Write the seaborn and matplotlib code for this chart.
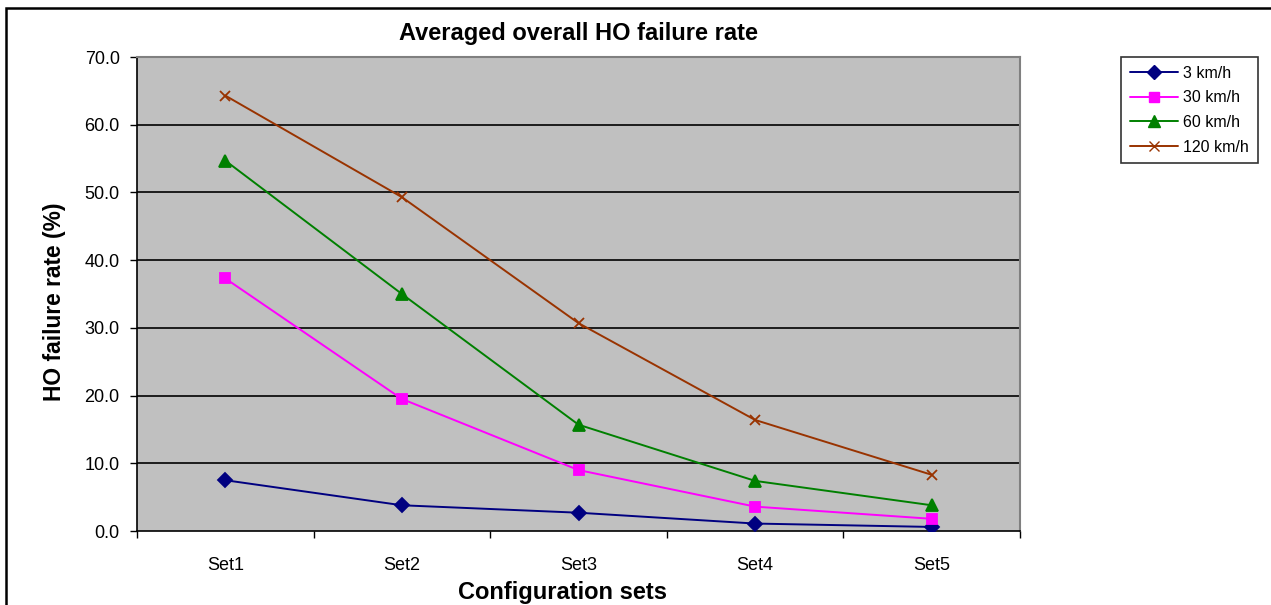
import numpy as np
import pandas as pd
import matplotlib
matplotlib.use("Agg")
import matplotlib.pyplot as plt
from matplotlib.patches import Rectangle
from matplotlib.lines import Line2D
from matplotlib.ticker import FormatStrFormatter, FixedLocator
import seaborn as sns

# ---- data ----
sets = ["Set1", "Set2", "Set3", "Set4", "Set5"]
speeds = ["3 km/h", "30 km/h", "60 km/h", "120 km/h"]
rate_3 = [7.5, 3.8, 2.7, 1.1, 0.6]
rate_30 = [37.3, 19.5, 9.0, 3.6, 1.8]
rate_60 = [54.7, 35.0, 15.7, 7.4, 3.8]
rate_120 = [64.3, 49.3, 30.7, 16.4, 8.3]
y_ticks = [0, 10, 20, 30, 40, 50, 60, 70]

series = {speeds[0]: rate_3, speeds[1]: rate_30, speeds[2]: rate_60, speeds[3]: rate_120}
df = pd.DataFrame([
    {"set": s, "speed": sp, "rate": v}
    for sp, vals in series.items() for s, v in zip(sets, vals)
])

sns.set_theme(style="white")
plt.rcParams["font.family"] = ["Liberation Sans", "DejaVu Sans"]
plt.rcParams["text.color"] = "black"
plt.rcParams["axes.labelcolor"] = "black"
plt.rcParams["xtick.color"] = "black"
plt.rcParams["ytick.color"] = "black"

colors = {speeds[0]: "#000080", speeds[1]: "#FF00FF", speeds[2]: "#008000", speeds[3]: "#993300"}
markers = {speeds[0]: "D", speeds[1]: "s", speeds[2]: "^", speeds[3]: "x"}
sizes = {speeds[0]: 7, speeds[1]: 7.5, speeds[2]: 8.5, speeds[3]: 7}

W, H = 1271, 605
fig = plt.figure(figsize=(W / 100, H / 100), dpi=100)
fig.patch.set_facecolor("white")
ax = fig.add_axes([137 / W, 1 - 531 / H, (1020 - 137) / W, (531 - 57) / H])
ax.set_facecolor("#C0C0C0")

for sp in speeds:
    sub = df[df["speed"] == sp]
    sns.lineplot(data=sub, x="set", y="rate", color=colors[sp], marker=markers[sp],
                 markersize=sizes[sp], markerfacecolor=colors[sp], markeredgecolor=colors[sp],
                 markeredgewidth=1.3, linewidth=1.4, sort=False, ax=ax, legend=False, zorder=3)

ax.set_xlim(-0.5, len(sets) - 0.5)
ax.set_ylim(0, 70)
ax.set_yticks(y_ticks)
ax.yaxis.set_major_formatter(FormatStrFormatter("%.1f"))
ax.grid(False)
for t in y_ticks[1:-1]:
    ax.axhline(t, color="black", linewidth=1.2, zorder=0.5)

ax.set_xticks(range(len(sets)))
ax.set_xticklabels(sets)
ax.xaxis.set_minor_locator(FixedLocator(np.arange(-0.5, len(sets), 1.0)))
ax.tick_params(axis="x", which="major", length=0, pad=19, labelsize=13, colors="black")
ax.tick_params(axis="x", which="minor", length=5, width=1, color="black", direction="out", bottom=True)
ax.tick_params(axis="y", which="major", length=5, width=1, color="black", direction="out",
               labelsize=13, pad=7.5, left=True, labelcolor="black")

for side in ["left", "bottom"]:
    ax.spines[side].set_color("black")
    ax.spines[side].set_linewidth(1.2)
for side in ["top", "right"]:
    ax.spines[side].set_color("#808080")
    ax.spines[side].set_linewidth(1.5)

ax.set_xlabel("Configuration sets", fontsize=17, fontweight="bold", color="black", va="center")
ax.xaxis.set_label_coords((563 - 137) / 883, (531 - 593) / 474)
ax.set_ylabel("HO failure rate (%)", fontsize=16.4, fontweight="bold", color="black", va="center")
ax.yaxis.set_label_coords((55 - 137) / 883, (531 - 302) / 474)
ax.set_title("Averaged overall HO failure rate", fontsize=17, fontweight="bold", pad=12, color="black")

# legend
handles = [Line2D([0], [0], color=colors[sp], marker=markers[sp], markersize=sizes[sp],
                  markerfacecolor=colors[sp], markeredgecolor=colors[sp], linewidth=1.4)
           for sp in speeds]
leg = fig.legend(handles, speeds, loc="upper left", bbox_to_anchor=(1121 / W, 1 - 57 / H),
                 frameon=True, fancybox=False, edgecolor="black", fontsize=11.5,
                 handlelength=3.0, borderpad=0.55, labelspacing=0.6, handletextpad=0.35,
                 borderaxespad=0)
leg.get_frame().set_linewidth(1.2)
for txt in leg.get_texts():
    txt.set_color("black")

# outer chart border
fig.patches.append(Rectangle((6 / W, -0.1), 1.2, 1.1 - 8 / H, transform=fig.transFigure,
                             fill=False, edgecolor="black", linewidth=1.8, zorder=10))

fig.savefig("out.png", dpi=100, facecolor="white")
